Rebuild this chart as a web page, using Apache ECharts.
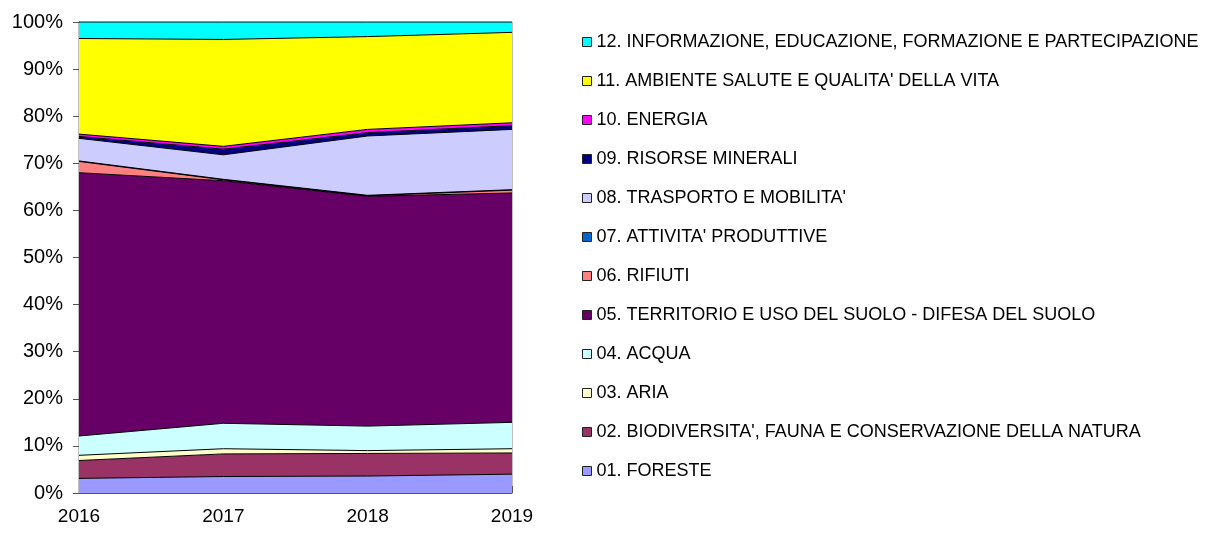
<!DOCTYPE html>
<html>
<head>
<meta charset="utf-8">
<script src="https://cdn.jsdelivr.net/npm/echarts@6/dist/echarts.min.js"></script>
<style>
  html, body { margin: 0; padding: 0; background: #fff; }
  #chart { width: 1208px; height: 534px; }
</style>
</head>
<body>
<div id="chart"></div>
<script>
// anni
const years = ['2016', '2017', '2018', '2019'];

// quote percentuali per tematica
const foreste = [3.1, 3.5, 3.6, 4.0];
const biodiversita = [3.8, 4.8, 4.8, 4.5];
const aria = [1.1, 1.1, 0.6, 0.9];
const acqua = [4.1, 5.4, 5.2, 5.6];
const territorio = [55.9, 51.5, 48.8, 48.7];
const rifiuti = [2.4, 0.2, 0.1, 0.6];
const attivita = [0.1, 0.1, 0.1, 0.1];
const trasporto = [4.8, 5.2, 12.6, 12.8];
const risorse = [0.4, 1.2, 0.7, 0.8];
const energia = [0.5, 0.6, 0.7, 0.6];
const ambienteSalute = [20.3, 22.7, 19.7, 19.2];
const informazione = [3.5, 3.7, 3.1, 2.2];

const seriesNames = [
  '01. FORESTE',
  "02. BIODIVERSITA', FAUNA E CONSERVAZIONE DELLA NATURA",
  '03. ARIA',
  '04. ACQUA',
  '05. TERRITORIO E USO DEL SUOLO - DIFESA DEL SUOLO',
  '06. RIFIUTI',
  "07. ATTIVITA' PRODUTTIVE",
  "08. TRASPORTO E MOBILITA'",
  '09. RISORSE MINERALI',
  '10. ENERGIA',
  "11. AMBIENTE SALUTE E QUALITA' DELLA VITA",
  '12. INFORMAZIONE, EDUCAZIONE, FORMAZIONE E PARTECIPAZIONE'
];
const seriesValues = [foreste, biodiversita, aria, acqua, territorio, rifiuti,
  attivita, trasporto, risorse, energia, ambienteSalute, informazione];

const colors = ['#9999FF', '#993366', '#FFFFCC', '#CCFFFF', '#660066', '#FF8080',
  '#0066CC', '#CCCCFF', '#000080', '#FF00FF', '#FFFF00', '#00FFFF'];

const font = "'Liberation Sans', Arial, sans-serif";

const chart = echarts.init(document.getElementById('chart'), null, { renderer: 'canvas' });

const option = {
  animation: false,
  color: colors,
  grid: {
    left: 79,
    right: 696,
    top: 22,
    bottom: 41,
    show: true,
    borderColor: '#808080',
    borderWidth: 1,
    backgroundColor: 'transparent'
  },
  legend: {
    orient: 'vertical',
    left: 582,
    top: 33,
    padding: 0,
    icon: 'rect',
    itemWidth: 9,
    itemHeight: 9,
    itemGap: 21,
    itemStyle: { borderColor: '#222', borderWidth: 1 },
    textStyle: {
      fontFamily: font,
      fontSize: 18,
      lineHeight: 16,
      color: '#000'
    },
    data: seriesNames.slice().reverse()
  },
  xAxis: {
    type: 'category',
    boundaryGap: false,
    data: years,
    axisLine: { lineStyle: { color: '#555', width: 1 } },
    axisTick: { inside: true, length: 7, lineStyle: { color: '#555' } },
    axisLabel: { fontFamily: font, fontSize: 19, color: '#000', margin: 14 },
    splitLine: { show: false }
  },
  yAxis: {
    type: 'value',
    min: 0,
    max: 100,
    interval: 10,
    axisLine: { show: true, lineStyle: { color: '#555', width: 1 } },
    axisTick: { show: true, length: 6, lineStyle: { color: '#555' } },
    axisLabel: { fontFamily: font, fontSize: 20, color: '#000', margin: 16, formatter: '{value}%' },
    splitLine: { show: false }
  },
  series: seriesNames.map((name, i) => ({
    name: name,
    type: 'line',
    stack: 'totale',
    data: seriesValues[i],
    showSymbol: false,
    symbol: 'none',
    lineStyle: { color: '#000', width: 1 },
    itemStyle: { color: colors[i] },
    areaStyle: { color: colors[i], opacity: 1 },
    emphasis: { disabled: true }
  }))
};

chart.setOption(option);
</script>
</body>
</html>
